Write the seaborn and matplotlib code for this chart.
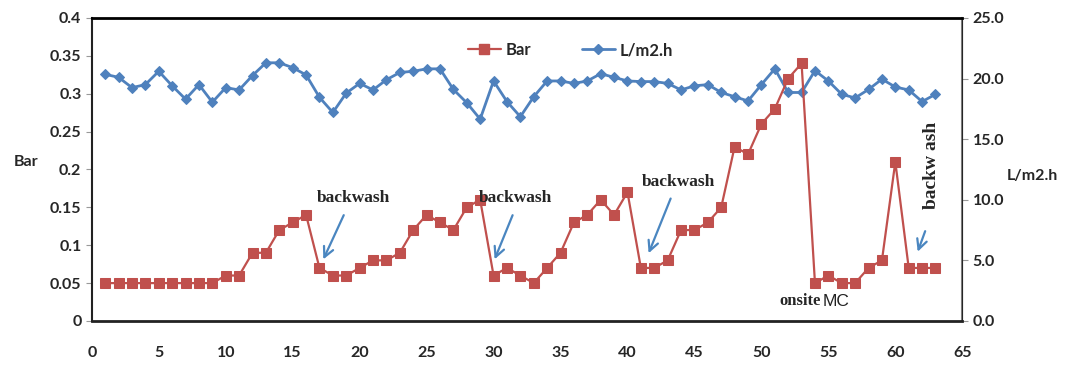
import matplotlib
matplotlib.use("Agg")
import matplotlib.pyplot as plt
import seaborn as sns
import numpy as np
import pandas as pd
from matplotlib.lines import Line2D

days = list(range(1, 64))
bar = [0.05, 0.05, 0.05, 0.05, 0.05, 0.05, 0.05, 0.05, 0.05,
       0.06, 0.06, 0.09, 0.09, 0.12, 0.13, 0.14, 0.07, 0.06, 0.06, 0.07,
       0.08, 0.08, 0.09, 0.12, 0.14, 0.13, 0.12, 0.15, 0.16, 0.06,
       0.07, 0.06, 0.05, 0.07, 0.09, 0.13, 0.14, 0.16, 0.14, 0.17,
       0.07, 0.07, 0.08, 0.12, 0.12, 0.13, 0.15, 0.23, 0.22, 0.26,
       0.28, 0.32, 0.34, 0.05, 0.06, 0.05, 0.05, 0.07, 0.08, 0.21,
       0.07, 0.07, 0.07]
flux = [20.35, 20.1, 19.25, 19.5, 20.6, 19.4, 18.3, 19.5, 18.05, 19.25,
        19.06, 20.25, 21.3, 21.3, 20.9, 20.3, 18.45, 17.2, 18.8, 19.6,
        19.06, 19.9, 20.5, 20.6, 20.8, 20.8, 19.1, 18.0, 16.65, 19.8,
        18.1, 16.85, 18.5, 19.8, 19.8, 19.6, 19.8, 20.4, 20.1, 19.8,
        19.75, 19.75, 19.6, 19.06, 19.4, 19.5, 18.85, 18.5, 18.15, 19.5,
        20.8, 18.85, 18.85, 20.65, 19.8, 18.7, 18.4, 19.1, 19.95, 19.3,
        19.06, 18.1, 18.7]

bar_ticks = [0, 0.05, 0.1, 0.15, 0.2, 0.25, 0.3, 0.35, 0.4]
bar_ticklabels = ["0", "0.05", "0.1", "0.15", "0.2", "0.25", "0.3", "0.35", "0.4"]
flux_ticks = [0, 5, 10, 15, 20, 25]
flux_ticklabels = ["0.0", "5.0", "10.0", "15.0", "20.0", "25.0"]
x_ticks = list(range(0, 70, 5))

RED = "#C0504D"
BLUE = "#4F81BD"
ARROW = "#4A86C0"

sns.set_style("white")
plt.rcParams['font.family'] = ['Lato', 'DejaVu Sans']

df = pd.DataFrame({"day": days, "Bar": bar, "flux": flux})

fig = plt.figure(figsize=(10.8, 3.66), dpi=100)
ax = fig.add_axes([0.085, 0.123, 0.806, 0.828])
ax2 = ax.twinx()

sns.lineplot(data=df, x="day", y="flux", ax=ax2, color=BLUE, marker="D",
             markersize=5.5, markeredgecolor=BLUE, linewidth=2, zorder=2)
sns.lineplot(data=df, x="day", y="Bar", ax=ax, color=RED, marker="s",
             markersize=7.5, markeredgecolor=RED, linewidth=1.6, zorder=3)

ax.set_zorder(ax2.get_zorder() + 1)
ax.patch.set_visible(False)

ax.set_xlim(0, 65)
ax.set_ylim(0, 0.4)
ax2.set_ylim(0, 25)
ax.set_xticks(x_ticks)
ax.set_xticklabels([str(t) for t in x_ticks], fontweight="bold", fontsize=11.5)
ax.set_yticks(bar_ticks)
ax.set_yticklabels(bar_ticklabels, fontweight="bold", fontsize=11.5)
ax2.set_yticks(flux_ticks)
ax2.set_yticklabels(flux_ticklabels, fontweight="bold", fontsize=11.5)
ax.tick_params(axis="x", pad=14, length=4, direction="out", color="#999999")
ax.tick_params(axis="y", length=4, direction="out", color="#999999")
ax2.tick_params(axis="y", length=4, direction="out", color="#999999")

ax.set_xlabel("")
ax.set_ylabel("Bar", rotation=0, fontweight="bold", fontsize=11.5)
ax.yaxis.set_label_coords(-0.075, 0.5)
ax2.set_ylabel("L/m2.h", rotation=0, fontweight="bold", fontsize=11.5)
ax2.yaxis.set_label_coords(1.08, 0.5)

for a in (ax, ax2):
    for s in a.spines.values():
        s.set_visible(True)
ax.spines["top"].set_color("black")
ax.spines["top"].set_linewidth(2)
ax.spines["bottom"].set_color("#222222")
ax.spines["bottom"].set_linewidth(2)
ax.spines["left"].set_color("#222222")
ax.spines["left"].set_linewidth(1.5)
ax2.spines["right"].set_color("#808080")
ax2.spines["right"].set_linewidth(1.5)
ax2.spines["top"].set_visible(False)
ax2.spines["bottom"].set_visible(False)
ax2.spines["left"].set_visible(False)
ax.grid(False)
ax2.grid(False)

handles = [Line2D([], [], color=RED, marker="s", markersize=7.5, linewidth=1.6),
           Line2D([], [], color=BLUE, marker="D", markersize=5.5, linewidth=2)]
leg = ax.legend(handles, ["Bar", "L/m2.h"], loc="upper center", ncol=2,
                frameon=False, bbox_to_anchor=(0.55, 0.97), handlelength=2.0,
                columnspacing=3.0, handletextpad=0.3,
                prop={"weight": "bold", "size": 12})
if ax2.get_legend() is not None:
    ax2.get_legend().remove()

serif = ["Liberation Serif", "DejaVu Serif"]
arrow_kw = dict(arrowstyle="->", color=ARROW, lw=1.6, mutation_scale=18)

ax.text(19.5, 0.162, "backwash", ha="center", va="center", fontsize=12.5,
        fontweight="bold", family=serif)
ax.annotate("", xy=(17.2, 0.078), xytext=(18.9, 0.143), arrowprops=arrow_kw)

ax.text(31.6, 0.162, "backwash", ha="center", va="center", fontsize=12.5,
        fontweight="bold", family=serif)
ax.annotate("", xy=(30.0, 0.078), xytext=(31.5, 0.143), arrowprops=arrow_kw)

ax.text(43.8, 0.183, "backwash", ha="center", va="center", fontsize=12.5,
        fontweight="bold", family=serif)
ax.annotate("", xy=(41.5, 0.086), xytext=(43.3, 0.165), arrowprops=arrow_kw)

ax.text(62.7, 0.205, "backw ash", ha="center", va="center", fontsize=14,
        fontweight="bold", family=serif, rotation=90)
ax.annotate("", xy=(61.6, 0.088), xytext=(62.3, 0.122), arrowprops=arrow_kw)

ax.text(54.4, 0.026, "onsite", ha="right", va="center", fontsize=12,
        fontweight="bold", family=serif)
ax.text(54.6, 0.026, "MC", ha="left", va="center", fontsize=12.5,
        family=["Liberation Sans", "DejaVu Sans"], color="#222222")

fig.savefig("out.png", dpi=100, facecolor="white")
